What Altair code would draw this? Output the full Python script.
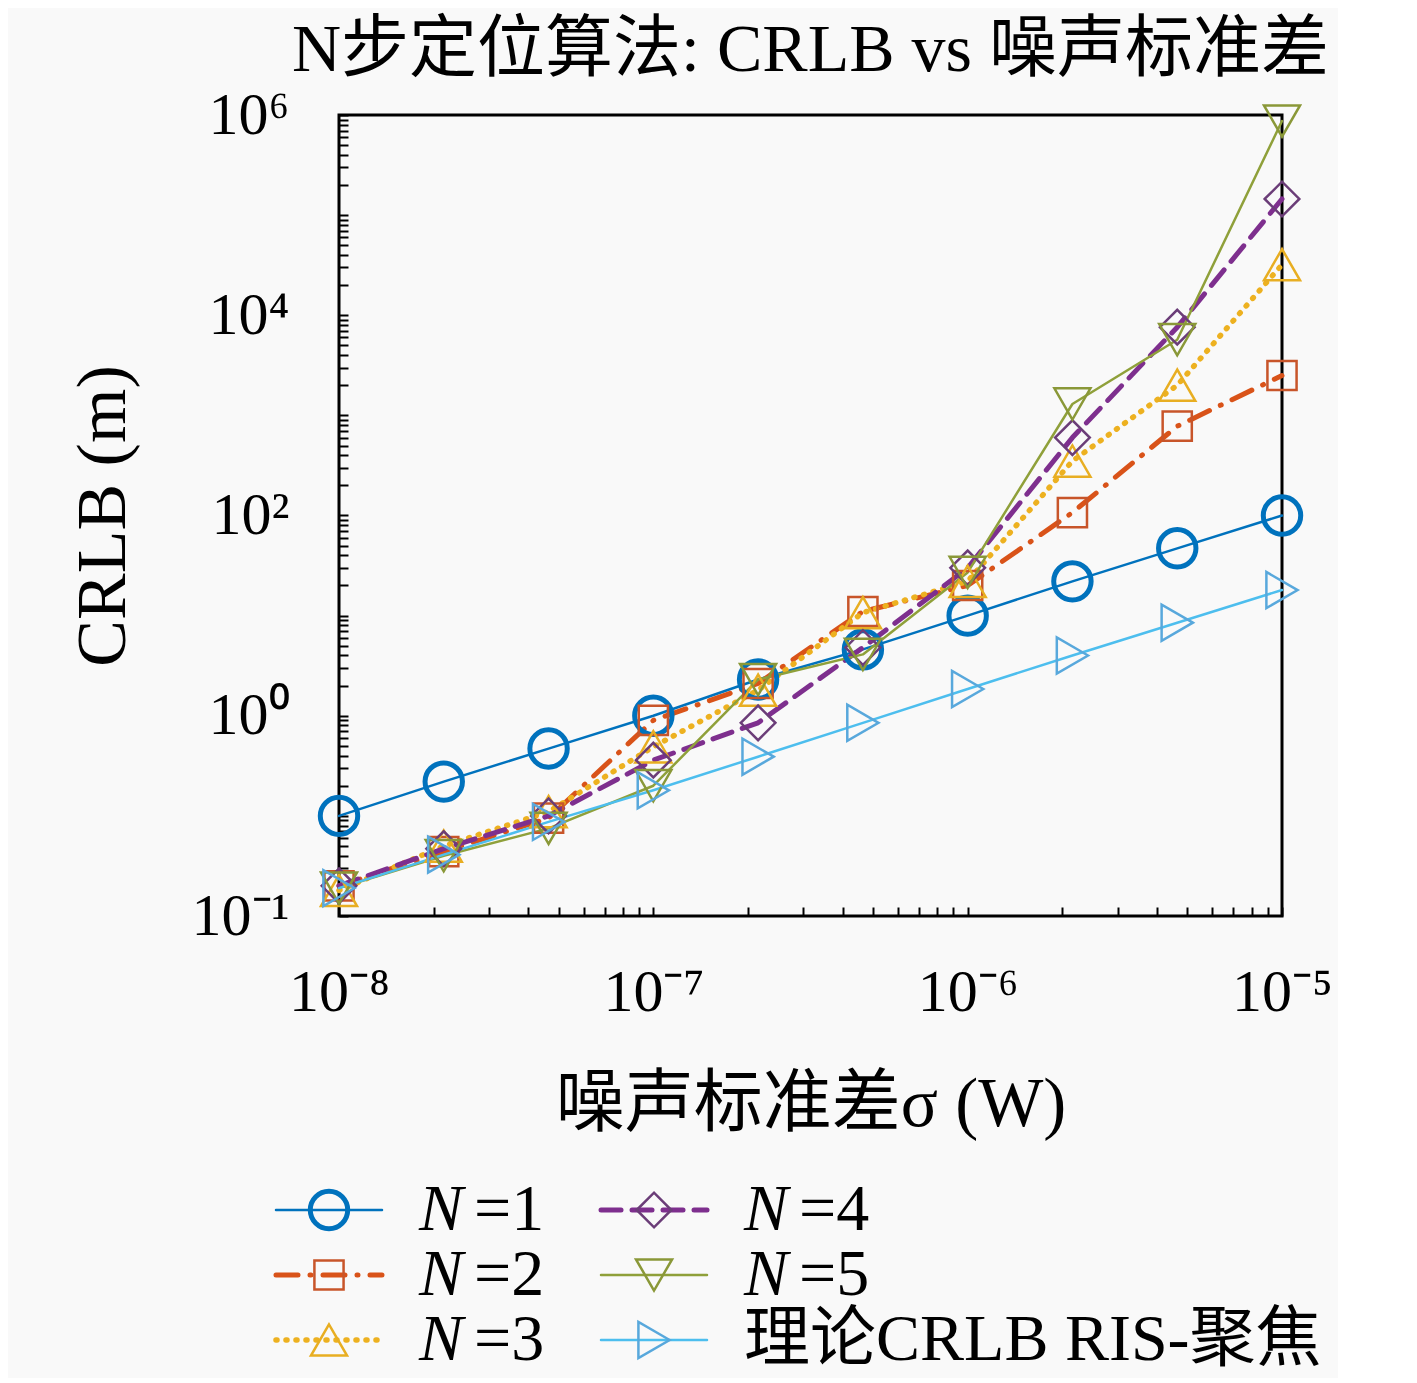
import altair as alt
import pandas as pd

# ---------------- data ----------------
sigma = [1e-8, 2.154e-8, 4.642e-8, 1e-7, 2.154e-7, 4.642e-7, 1e-6, 2.154e-6, 4.642e-6, 1e-5]
n1 = [0.1, 0.22, 0.47, 1.0, 2.3, 4.6, 10, 22, 47, 100]
n2 = [0.02, 0.044, 0.095, 0.9, 2.1, 11, 20, 107, 780, 2500]
n3 = [0.018, 0.05, 0.11, 0.49, 1.8, 10.7, 22, 350, 2000, 32000]
n4 = [0.02, 0.047, 0.1, 0.36, 0.85, 4.8, 30, 600, 7600, 145000]
n5 = [0.019, 0.04, 0.075, 0.2, 2.3, 4.1, 27, 1300, 5700, 870000]
theory = [0.019, 0.041, 0.087, 0.18, 0.39, 0.85, 1.85, 4.0, 8.5, 18]

series_names = ["N=1", "N=2", "N=3", "N=4", "N=5", "理论CRLB RIS-聚焦"]
series_values = [n1, n2, n3, n4, n5, theory]
# legend text split so that the variable N can be set in italics
legend_italic = ["N", "N", "N", "N", "N", ""]
legend_rest = ["=1", "=2", "=3", "=4", "=5", "理论CRLB RIS-聚焦"]

# legend layout: column-major like the reference
legend_col = [0, 0, 0, 1, 1, 1]
legend_row = [0, 1, 2, 0, 1, 2]

# ---------------- styles ----------------
line_colors = ["#0072BD", "#D95319", "#EDB120", "#7E2F8E", "#8FA03A", "#4DBEEE"]
marker_colors = ["#0072BD", "#C8552A", "#E8AE22", "#6B3D78", "#8A9838", "#58A8DC"]
dashes = [None, [22, 12, 1, 12], [1, 9], [20, 11], None, None]
line_widths = [2.5, 5, 5.5, 5, 2.5, 2.5]
shapes = ["circle", "square", "triangle-up", "diamond", "triangle-down", "triangle-right"]
marker_widths = [5, 2.5, 2.5, 2.5, 2.5, 2.5]
marker_sizes = [1400, 850, 1300, 1200, 1300, 1300]

FONT = "Liberation Serif, Noto Sans CJK SC"
LEG_FS = 66


def sup_label_expr(pairs):
    expr = "''"
    for e, text in reversed(pairs):
        expr = f"abs(log(datum.value)/LN10 - ({e})) < 0.01 ? '{text}' : {expr}"
    return expr


x_ticks = [m * 10.0 ** k for k in range(-8, -5) for m in range(1, 10)] + [1e-5]
y_ticks = [m * 10.0 ** k for k in range(-2, 6) for m in range(1, 10)] + [1e6]

x_labels = [(-8, "10⁻⁸"), (-7, "10⁻⁷"), (-6, "10⁻⁶"), (-5, "10⁻⁵")]
y_labels = [(-2, "10⁻¹"), (0, "10⁰"), (2, "10²"), (4, "10⁴"), (6, "10⁶")]

TICK = 9

x_enc = alt.X(
    "sigma:Q",
    scale=alt.Scale(type="log", domain=[1e-8, 1e-5], nice=False),
    axis=alt.Axis(
        values=x_ticks, labelExpr=sup_label_expr(x_labels), title="噪声标准差σ (W)",
        grid=False, domain=False, offset=-TICK, tickSize=TICK, tickWidth=2, tickColor="black",
        labelFont=FONT, labelFontSize=60, labelColor="black", labelPadding=47,
        labelFlush=False, labelOverlap=False,
        titleFont=FONT, titleFontSize=69, titleFontWeight="normal", titleColor="black",
        titlePadding=48,
    ),
)
y_enc = alt.Y(
    "value:Q",
    scale=alt.Scale(type="log", domain=[1e-2, 1e6], nice=False),
    axis=alt.Axis(
        values=y_ticks, labelExpr=sup_label_expr(y_labels), title="CRLB (m)",
        grid=False, domain=False, offset=-TICK, tickSize=TICK, tickWidth=2, tickColor="black",
        labelFont=FONT, labelFontSize=60, labelColor="black", labelPadding=50,
        labelFlush=False, labelOverlap=False,
        titleFont=FONT, titleFontSize=70, titleFontWeight="normal", titleColor="black",
        titlePadding=52,
    ),
)


def line_props(i):
    props = dict(color=line_colors[i], strokeWidth=line_widths[i], strokeCap="round", strokeJoin="round")
    if dashes[i] is not None:
        props["strokeDash"] = dashes[i]
    return props


def point_props(i):
    return dict(filled=False, opacity=1, shape=shapes[i], stroke=marker_colors[i],
                strokeWidth=marker_widths[i], size=marker_sizes[i])


series_frames = [pd.DataFrame({"sigma": sigma, "value": vals}) for vals in series_values]

main_layers = []
for i, sdf in enumerate(series_frames):
    main_layers.append(alt.Chart(sdf).mark_line(**line_props(i)).encode(x=x_enc, y=y_enc))
for i, sdf in enumerate(series_frames):
    main_layers.append(alt.Chart(sdf).mark_point(**point_props(i)).encode(x=x_enc, y=y_enc))
main = alt.layer(*main_layers)

# ---------------- legend (items placed below the plot through their own scales) ----------------
lx = alt.X("col:Q", scale=alt.Scale(domain=[0.0308, 2.932], nice=False, zero=False), axis=None)
ly = alt.Y("row:Q", scale=alt.Scale(domain=[-16.846, -4.523], nice=False, zero=False, reverse=True), axis=None)

ITALIC_N_WIDTH = round(0.667 * LEG_FS) + 11

leg_layers = []
for i, name in enumerate(series_names):
    ldf = pd.DataFrame({"series": [name], "italic": [legend_italic[i]], "rest": [legend_rest[i]],
                        "col": [legend_col[i]], "row": [legend_row[i]]})
    leg_layers.append(alt.Chart(ldf).mark_rule(xOffset=-53, x2Offset=53, **line_props(i)).encode(
        x=lx, x2="col:Q", y=ly))
    leg_layers.append(alt.Chart(ldf).mark_point(**point_props(i)).encode(x=lx, y=ly))
    rest_dx = 90
    if legend_italic[i]:
        leg_layers.append(
            alt.Chart(ldf).mark_text(align="left", baseline="middle", dx=90, font=FONT, fontSize=LEG_FS,
                                     fontStyle="italic", color="black").encode(x=lx, y=ly, text="italic:N")
        )
        rest_dx = 90 + ITALIC_N_WIDTH
    leg_layers.append(
        alt.Chart(ldf).mark_text(align="left", baseline="middle", dx=rest_dx, font=FONT, fontSize=LEG_FS,
                                 color="black").encode(x=lx, y=ly, text="rest:N")
    )
legend = alt.layer(*leg_layers)

chart = alt.layer(main, legend).resolve_scale(x="independent", y="independent").properties(
    width=943, height=801,
    padding={"left": 60, "top": 9, "right": 5, "bottom": 5},
    title=alt.TitleParams(
        "N步定位算法: CRLB vs 噪声标准差", font=FONT, fontSize=68, fontWeight="normal",
        color="black", anchor="middle", frame="group", offset=0,
    ),
).configure(background="#f9f9f9", view=alt.ViewConfig(stroke="black", strokeWidth=3))

chart.save("out.html", embed_options={"renderer": "svg", "actions": False})
